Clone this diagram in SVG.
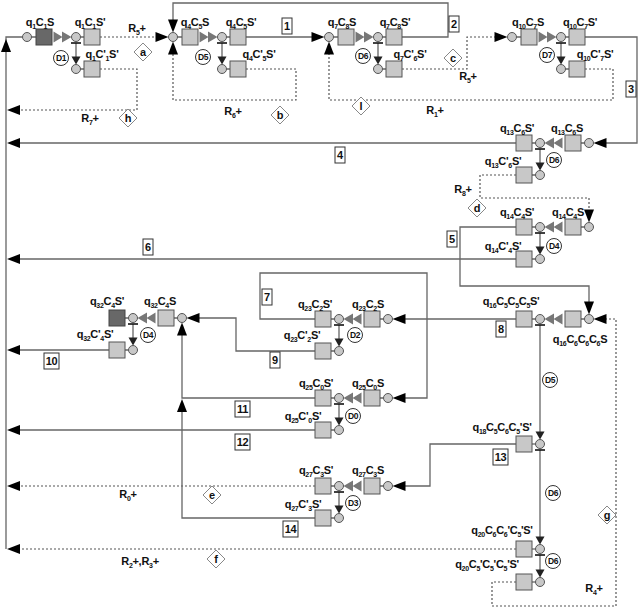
<svg xmlns="http://www.w3.org/2000/svg" xmlns:xlink="http://www.w3.org/1999/xlink" width="640" height="610" viewBox="0 0 640 610">
<style>
.t{font-family:"Liberation Sans",Arial,sans-serif;font-weight:bold;font-size:11px;fill:#111;text-anchor:middle;letter-spacing:-0.3px}
.s{font-size:7px}
.dt{font-family:"Liberation Sans",Arial,sans-serif;font-weight:bold;font-size:8.5px;fill:#111;text-anchor:middle;letter-spacing:-0.5px}
.ci{fill:#c8c8c8;stroke:#555;stroke-width:1}
.sq{fill:#c8c8c8;stroke:#555;stroke-width:1}
.sqd{fill:#686868;stroke:#444;stroke-width:1}
.ln{fill:none;stroke:#666;stroke-width:1.3}
.dl{fill:none;stroke:#555;stroke-width:1.2;stroke-dasharray:2 2}
.bar{fill:none;stroke:#111;stroke-width:1.6}
.dc{fill:#fff;stroke:#333;stroke-width:1}
.bx{fill:#fff;stroke:#333;stroke-width:1}
.dm{fill:#fff;stroke:#888;stroke-width:1}
</style>
<defs>
<path id="ar" d="M0,0 L-13,-5 L-13,5 Z" fill="#000"/>
<path id="av" d="M0,0 L-4.5,-8 L4.5,-8 Z" fill="#222"/>
<path id="dr" d="M-18,-5.5 L-9,0 L-18,5.5 Z M-9.5,-5.5 L0,0 L-9.5,5.5 Z" fill="#777"/>
<path id="dia" d="M-9,0 L0,-9 L9,0 L0,9 Z"/>
</defs>
<rect width="640" height="610" fill="#fff"/>

<g id="connectors">
<path class="ln" d="M6 549V37H22.5"/>
<use href="#ar" transform="translate(6,39) rotate(-90)"/>
<path class="dl" d="M100 37H160"/><use href="#ar" transform="translate(168.5,37)"/>
<path class="dl" d="M100 69H137V110H12"/><use href="#ar" transform="translate(7,110) rotate(180)"/>
<path class="ln" d="M246 37H318"/><use href="#ar" transform="translate(324.5,37)"/>
<path class="dl" d="M246 69H296V100H173V50"/><use href="#ar" transform="translate(173,41.5) rotate(-90)"/>
<path class="ln" d="M402 37H448V3H173V25"/><use href="#ar" transform="translate(173,32.5) rotate(90)"/>
<path class="dl" d="M402 69H467V37H500"/><use href="#ar" transform="translate(507.5,37)"/>
<path class="ln" d="M585 37H637V143H600"/><use href="#ar" transform="translate(593.5,143) rotate(180)"/>
<path class="dl" d="M585 69H613V100H329V50"/><use href="#ar" transform="translate(329,41.5) rotate(-90)"/>
<path class="ln" d="M516 143H12"/><use href="#ar" transform="translate(7,143) rotate(180)"/>
<path class="dl" d="M516 175H480V198H589V215"/><use href="#ar" transform="translate(589,222.5) rotate(90)"/>
<path class="ln" d="M516 227H460V286H589V307"/><use href="#ar" transform="translate(589,314.5) rotate(90)"/>
<path class="ln" d="M516 259H12"/><use href="#ar" transform="translate(7,259) rotate(180)"/>
<path class="ln" d="M516 319H398"/><use href="#ar" transform="translate(392.5,319) rotate(180)"/>
<path class="ln" d="M540 325V432"/><use href="#av" transform="translate(540,439.5)"/>
<path class="ln" d="M516 444H430V486H398"/><use href="#ar" transform="translate(392.5,486) rotate(180)"/>
<path class="ln" d="M540 450V537"/><use href="#av" transform="translate(540,544.5)"/>
<path class="dl" d="M516 549H12"/><use href="#ar" transform="translate(7,549) rotate(180)"/>
<path class="ln" d="M540 555V570"/><use href="#av" transform="translate(540,577.5)"/>
<path class="dl" d="M516 582H492V606H616V319H600"/><use href="#ar" transform="translate(593.5,319) rotate(180)"/>
<path class="ln" d="M315 319H260V273H427V398H398"/><use href="#ar" transform="translate(392.5,398) rotate(180)"/>
<path class="ln" d="M315 351H236V318H192"/><use href="#ar" transform="translate(186.5,318) rotate(180)"/>
<path class="ln" d="M315 398H182V330"/><use href="#ar" transform="translate(182,322.5) rotate(-90)"/>
<path class="ln" d="M315 430H12"/><use href="#ar" transform="translate(7,430) rotate(180)"/>
<path class="dl" d="M315 486H12"/><use href="#ar" transform="translate(7,486) rotate(180)"/>
<path class="ln" d="M315 518H182V405"/><use href="#ar" transform="translate(182,399) rotate(-90)"/>
<path class="ln" d="M109 350H12"/><use href="#ar" transform="translate(7,350) rotate(180)"/>
</g>

<g id="connector-labels">
<text class="t" x="137" y="32">R<tspan class="s" dy="3">5</tspan><tspan dy="-3">+</tspan></text>
<text class="t" x="90" y="122">R<tspan class="s" dy="3">7</tspan><tspan dy="-3">+</tspan></text>
<text class="t" x="233" y="115">R<tspan class="s" dy="3">6</tspan><tspan dy="-3">+</tspan></text>
<text class="t" x="468" y="80">R<tspan class="s" dy="3">5</tspan><tspan dy="-3">+</tspan></text>
<text class="t" x="435" y="114">R<tspan class="s" dy="3">1</tspan><tspan dy="-3">+</tspan></text>
<text class="t" x="463" y="193">R<tspan class="s" dy="3">8</tspan><tspan dy="-3">+</tspan></text>
<text class="t" x="128" y="498">R<tspan class="s" dy="3">0</tspan><tspan dy="-3">+</tspan></text>
<text class="t" x="140" y="565">R<tspan class="s" dy="3">2</tspan><tspan dy="-3">+,R</tspan><tspan class="s" dy="3">3</tspan><tspan dy="-3">+</tspan></text>
<text class="t" x="594" y="592">R<tspan class="s" dy="3">4</tspan><tspan dy="-3">+</tspan></text>

<use href="#dia" class="dm" x="143" y="52"/><text class="t" x="143" y="56">a</text>
<use href="#dia" class="dm" x="128" y="118"/><text class="t" x="128" y="122">h</text>
<use href="#dia" class="dm" x="280" y="115"/><text class="t" x="280" y="119">b</text>
<use href="#dia" class="dm" x="453" y="58"/><text class="t" x="453" y="62">c</text>
<use href="#dia" class="dm" x="361" y="106"/><text class="t" x="361" y="110">l</text>
<use href="#dia" class="dm" x="477" y="208"/><text class="t" x="477" y="212">d</text>
<use href="#dia" class="dm" x="212" y="495"/><text class="t" x="212" y="499">e</text>
<use href="#dia" class="dm" x="216" y="559"/><text class="t" x="216" y="563">f</text>
<use href="#dia" class="dm" x="607" y="515"/><text class="t" x="607" y="519">g</text>

<rect class="bx" x="282" y="18" width="10" height="16"/><text class="t" x="287" y="30">1</text>
<rect class="bx" x="449" y="16" width="10" height="16"/><text class="t" x="454" y="28">2</text>
<rect class="bx" x="626" y="81" width="10" height="16"/><text class="t" x="631" y="93">3</text>
<rect class="bx" x="335" y="147" width="10" height="16"/><text class="t" x="340" y="159">4</text>
<rect class="bx" x="447" y="231" width="10" height="16"/><text class="t" x="452" y="243">5</text>
<rect class="bx" x="143" y="239" width="10" height="16"/><text class="t" x="148" y="251">6</text>
<rect class="bx" x="262" y="289" width="10" height="16"/><text class="t" x="267" y="301">7</text>
<rect class="bx" x="496" y="321" width="10" height="16"/><text class="t" x="501" y="333">8</text>
<rect class="bx" x="270" y="352" width="10" height="16"/><text class="t" x="275" y="364">9</text>
<rect class="bx" x="44" y="353" width="15" height="16"/><text class="t" x="51.5" y="365">10</text>
<rect class="bx" x="235" y="401" width="15" height="16"/><text class="t" x="242.5" y="413">11</text>
<rect class="bx" x="235" y="434" width="15" height="16"/><text class="t" x="242.5" y="446">12</text>
<rect class="bx" x="493" y="449" width="15" height="16"/><text class="t" x="500.5" y="461">13</text>
<rect class="bx" x="283" y="521" width="15" height="16"/><text class="t" x="290.5" y="533">14</text>
</g>

<g id="q1">
<path class="ln" d="M31.5 37H36M80.5 37H84M76 43V61M80.5 69H84"/>
<circle class="ci" cx="27" cy="37" r="4.5"/>
<rect class="sqd" x="36" y="29" width="16" height="16"/>
<use href="#dr" transform="translate(71.5,37)"/>
<circle class="ci" cx="76" cy="37" r="4.5"/>
<path class="bar" d="M71 43H81"/>
<rect class="sq" x="84" y="29" width="16" height="16"/>
<use href="#av" transform="translate(76,64.5)"/>
<circle class="ci" cx="76" cy="69" r="4.5"/>
<rect class="sq" x="84" y="61" width="16" height="16"/>
<circle class="dc" cx="61" cy="58" r="7.5"/><text class="dt" x="61" y="61">D1</text>
<text class="t" x="40" y="26">q<tspan class="s" dy="3">1</tspan><tspan dy="-3">C</tspan><tspan class="s" dy="3">1</tspan><tspan dy="-3">S</tspan></text>
<text class="t" x="90" y="26">q<tspan class="s" dy="3">1</tspan><tspan dy="-3">C</tspan><tspan class="s" dy="3">1</tspan><tspan dy="-3">S'</tspan></text>
<text class="t" x="102" y="58">q<tspan class="s" dy="3">1</tspan><tspan dy="-3">C'</tspan><tspan class="s" dy="3">1</tspan><tspan dy="-3">S'</tspan></text>
</g>

<g id="q4">
<path class="ln" d="M177.5 37H182M226.5 37H230M222 43V61M226.5 69H230"/>
<circle class="ci" cx="173" cy="37" r="4.5"/>
<rect class="sq" x="182" y="29" width="16" height="16"/>
<use href="#dr" transform="translate(217.5,37)"/>
<circle class="ci" cx="222" cy="37" r="4.5"/>
<path class="bar" d="M217 43H227"/>
<rect class="sq" x="230" y="29" width="16" height="16"/>
<use href="#av" transform="translate(222,64.5)"/>
<circle class="ci" cx="222" cy="69" r="4.5"/>
<rect class="sq" x="230" y="61" width="16" height="16"/>
<circle class="dc" cx="203" cy="57" r="7.5"/><text class="dt" x="203" y="60">D5</text>
<text class="t" x="195" y="26">q<tspan class="s" dy="3">4</tspan><tspan dy="-3">C</tspan><tspan class="s" dy="3">5</tspan><tspan dy="-3">S</tspan></text>
<text class="t" x="241" y="26">q<tspan class="s" dy="3">4</tspan><tspan dy="-3">C</tspan><tspan class="s" dy="3">5</tspan><tspan dy="-3">S'</tspan></text>
<text class="t" x="259" y="58">q<tspan class="s" dy="3">4</tspan><tspan dy="-3">C'</tspan><tspan class="s" dy="3">5</tspan><tspan dy="-3">S'</tspan></text>
</g>

<g id="q7">
<path class="ln" d="M333.5 37H338M382.5 37H386M378 43V61M382.5 69H386"/>
<circle class="ci" cx="329" cy="37" r="4.5"/>
<rect class="sq" x="338" y="29" width="16" height="16"/>
<use href="#dr" transform="translate(373.5,37)"/>
<circle class="ci" cx="378" cy="37" r="4.5"/>
<path class="bar" d="M373 43H383"/>
<rect class="sq" x="386" y="29" width="16" height="16"/>
<use href="#av" transform="translate(378,64.5)"/>
<circle class="ci" cx="378" cy="69" r="4.5"/>
<rect class="sq" x="386" y="61" width="16" height="16"/>
<circle class="dc" cx="363" cy="56" r="7.5"/><text class="dt" x="363" y="59">D6</text>
<text class="t" x="342" y="26">q<tspan class="s" dy="3">7</tspan><tspan dy="-3">C</tspan><tspan class="s" dy="3">8</tspan><tspan dy="-3">S</tspan></text>
<text class="t" x="395" y="26">q<tspan class="s" dy="3">7</tspan><tspan dy="-3">C</tspan><tspan class="s" dy="3">8</tspan><tspan dy="-3">S'</tspan></text>
<text class="t" x="410" y="58">q<tspan class="s" dy="3">7</tspan><tspan dy="-3">C'</tspan><tspan class="s" dy="3">6</tspan><tspan dy="-3">S'</tspan></text>
</g>

<g id="q10">
<path class="ln" d="M516.5 37H521M565.5 37H569M561 43V61M565.5 69H569"/>
<circle class="ci" cx="512" cy="37" r="4.5"/>
<rect class="sq" x="521" y="29" width="16" height="16"/>
<use href="#dr" transform="translate(556.5,37)"/>
<circle class="ci" cx="561" cy="37" r="4.5"/>
<path class="bar" d="M556 43H566"/>
<rect class="sq" x="569" y="29" width="16" height="16"/>
<use href="#av" transform="translate(561,64.5)"/>
<circle class="ci" cx="561" cy="69" r="4.5"/>
<rect class="sq" x="569" y="61" width="16" height="16"/>
<circle class="dc" cx="547" cy="55" r="7.5"/><text class="dt" x="547" y="58">D7</text>
<text class="t" x="528" y="26">q<tspan class="s" dy="3">10</tspan><tspan dy="-3">C</tspan><tspan class="s" dy="3">7</tspan><tspan dy="-3">S</tspan></text>
<text class="t" x="580" y="26">q<tspan class="s" dy="3">10</tspan><tspan dy="-3">C</tspan><tspan class="s" dy="3">7</tspan><tspan dy="-3">S'</tspan></text>
<text class="t" x="595" y="58">q<tspan class="s" dy="3">10</tspan><tspan dy="-3">C'</tspan><tspan class="s" dy="3">7</tspan><tspan dy="-3">S'</tspan></text>
</g>

<g id="q13">
<path class="ln" d="M584.5 143H581M535.5 143H532M540 149V167M535.5 175H532"/>
<circle class="ci" cx="589" cy="143" r="4.5"/>
<rect class="sq" x="565" y="135" width="16" height="16"/>
<use href="#dr" transform="translate(544.5,143) scale(-1,1)"/>
<circle class="ci" cx="540" cy="143" r="4.5"/>
<path class="bar" d="M535 149H545"/>
<rect class="sq" x="516" y="135" width="16" height="16"/>
<use href="#av" transform="translate(540,170.5)"/>
<circle class="ci" cx="540" cy="175" r="4.5"/>
<rect class="sq" x="516" y="167" width="16" height="16"/>
<circle class="dc" cx="554" cy="160" r="7.5"/><text class="dt" x="554" y="163">D6</text>
<text class="t" x="517" y="132">q<tspan class="s" dy="3">13</tspan><tspan dy="-3">C</tspan><tspan class="s" dy="3">6</tspan><tspan dy="-3">S'</tspan></text>
<text class="t" x="567" y="132">q<tspan class="s" dy="3">13</tspan><tspan dy="-3">C</tspan><tspan class="s" dy="3">6</tspan><tspan dy="-3">S</tspan></text>
<text class="t" x="503" y="165">q<tspan class="s" dy="3">13</tspan><tspan dy="-3">C'</tspan><tspan class="s" dy="3">6</tspan><tspan dy="-3">S'</tspan></text>
</g>

<g id="q14">
<path class="ln" d="M584.5 227H581M535.5 227H532M540 233V251M535.5 259H532"/>
<circle class="ci" cx="589" cy="227" r="4.5"/>
<rect class="sq" x="565" y="219" width="16" height="16"/>
<use href="#dr" transform="translate(544.5,227) scale(-1,1)"/>
<circle class="ci" cx="540" cy="227" r="4.5"/>
<path class="bar" d="M535 233H545"/>
<rect class="sq" x="516" y="219" width="16" height="16"/>
<use href="#av" transform="translate(540,254.5)"/>
<circle class="ci" cx="540" cy="259" r="4.5"/>
<rect class="sq" x="516" y="251" width="16" height="16"/>
<circle class="dc" cx="554" cy="246" r="7.5"/><text class="dt" x="554" y="249">D4</text>
<text class="t" x="517" y="216">q<tspan class="s" dy="3">14</tspan><tspan dy="-3">C</tspan><tspan class="s" dy="3">4</tspan><tspan dy="-3">S'</tspan></text>
<text class="t" x="568" y="216">q<tspan class="s" dy="3">14</tspan><tspan dy="-3">C</tspan><tspan class="s" dy="3">4</tspan><tspan dy="-3">S</tspan></text>
<text class="t" x="503" y="250">q<tspan class="s" dy="3">14</tspan><tspan dy="-3">C'</tspan><tspan class="s" dy="3">4</tspan><tspan dy="-3">S'</tspan></text>
</g>

<g id="q16">
<path class="ln" d="M584.5 319H581M535.5 319H532"/>
<circle class="ci" cx="589" cy="319" r="4.5"/>
<rect class="sq" x="565" y="311" width="16" height="16"/>
<use href="#dr" transform="translate(544.5,319) scale(-1,1)"/>
<circle class="ci" cx="540" cy="319" r="4.5"/>
<path class="bar" d="M535 325H545"/>
<rect class="sq" x="516" y="311" width="16" height="16"/>
<circle class="dc" cx="550" cy="380" r="7.5"/><text class="dt" x="550" y="383">D5</text>
<text class="t" x="511" y="305">q<tspan class="s" dy="3">16</tspan><tspan dy="-3">C</tspan><tspan class="s" dy="3">5</tspan><tspan dy="-3">C</tspan><tspan class="s" dy="3">5</tspan><tspan dy="-3">C</tspan><tspan class="s" dy="3">5</tspan><tspan dy="-3">S'</tspan></text>
<text class="t" x="580" y="343">q<tspan class="s" dy="3">16</tspan><tspan dy="-3">C</tspan><tspan class="s" dy="3">6</tspan><tspan dy="-3">C</tspan><tspan class="s" dy="3">6</tspan><tspan dy="-3">C</tspan><tspan class="s" dy="3">6</tspan><tspan dy="-3">S</tspan></text>
</g>

<g id="q18">
<path class="ln" d="M535.5 444H532"/>
<rect class="sq" x="516" y="436" width="16" height="16"/>
<circle class="ci" cx="540" cy="444" r="4.5"/>
<path class="bar" d="M535 450H545"/>
<circle class="dc" cx="553" cy="493" r="7.5"/><text class="dt" x="553" y="496">D6</text>
<text class="t" x="502" y="431">q<tspan class="s" dy="3">18</tspan><tspan dy="-3">C</tspan><tspan class="s" dy="3">5</tspan><tspan dy="-3">C</tspan><tspan class="s" dy="3">6</tspan><tspan dy="-3">C</tspan><tspan class="s" dy="3">5</tspan><tspan dy="-3">'S'</tspan></text>
</g>

<g id="q20a">
<path class="ln" d="M535.5 549H532"/>
<rect class="sq" x="516" y="541" width="16" height="16"/>
<circle class="ci" cx="540" cy="549" r="4.5"/>
<path class="bar" d="M535 555H545"/>
<circle class="dc" cx="553" cy="561" r="7.5"/><text class="dt" x="553" y="564">D6</text>
<text class="t" x="502" y="534">q<tspan class="s" dy="3">20</tspan><tspan dy="-3">C</tspan><tspan class="s" dy="3">6</tspan><tspan dy="-3">C</tspan><tspan class="s" dy="3">6</tspan><tspan dy="-3">'C</tspan><tspan class="s" dy="3">5</tspan><tspan dy="-3">'S'</tspan></text>
</g>

<g id="q20b">
<path class="ln" d="M535.5 582H532"/>
<rect class="sq" x="516" y="574" width="16" height="16"/>
<circle class="ci" cx="540" cy="582" r="4.5"/>
<text class="t" x="487" y="568">q<tspan class="s" dy="3">20</tspan><tspan dy="-3">C</tspan><tspan class="s" dy="3">5</tspan><tspan dy="-3">'C</tspan><tspan class="s" dy="3">5</tspan><tspan dy="-3">'C</tspan><tspan class="s" dy="3">5</tspan><tspan dy="-3">'S'</tspan></text>
</g>

<g id="q23">
<path class="ln" d="M383.5 319H380M334.5 319H331M339 325V343M334.5 351H331"/>
<circle class="ci" cx="388" cy="319" r="4.5"/>
<rect class="sq" x="364" y="311" width="16" height="16"/>
<use href="#dr" transform="translate(343.5,319) scale(-1,1)"/>
<circle class="ci" cx="339" cy="319" r="4.5"/>
<path class="bar" d="M334 325H344"/>
<rect class="sq" x="315" y="311" width="16" height="16"/>
<use href="#av" transform="translate(339,346.5)"/>
<circle class="ci" cx="339" cy="351" r="4.5"/>
<rect class="sq" x="315" y="343" width="16" height="16"/>
<circle class="dc" cx="355" cy="335" r="7.5"/><text class="dt" x="355" y="338">D2</text>
<text class="t" x="315" y="308">q<tspan class="s" dy="3">23</tspan><tspan dy="-3">C</tspan><tspan class="s" dy="3">2</tspan><tspan dy="-3">S'</tspan></text>
<text class="t" x="368" y="308">q<tspan class="s" dy="3">23</tspan><tspan dy="-3">C</tspan><tspan class="s" dy="3">2</tspan><tspan dy="-3">S</tspan></text>
<text class="t" x="302" y="339">q<tspan class="s" dy="3">23</tspan><tspan dy="-3">C'</tspan><tspan class="s" dy="3">2</tspan><tspan dy="-3">S'</tspan></text>
</g>

<g id="q25">
<path class="ln" d="M383.5 398H380M334.5 398H331M339 404V422M334.5 430H331"/>
<circle class="ci" cx="388" cy="398" r="4.5"/>
<rect class="sq" x="364" y="390" width="16" height="16"/>
<use href="#dr" transform="translate(343.5,398) scale(-1,1)"/>
<circle class="ci" cx="339" cy="398" r="4.5"/>
<path class="bar" d="M334 404H344"/>
<rect class="sq" x="315" y="390" width="16" height="16"/>
<use href="#av" transform="translate(339,425.5)"/>
<circle class="ci" cx="339" cy="430" r="4.5"/>
<rect class="sq" x="315" y="422" width="16" height="16"/>
<circle class="dc" cx="353" cy="416" r="7.5"/><text class="dt" x="353" y="419">D0</text>
<text class="t" x="316" y="387">q<tspan class="s" dy="3">25</tspan><tspan dy="-3">C</tspan><tspan class="s" dy="3">0</tspan><tspan dy="-3">S'</tspan></text>
<text class="t" x="368" y="387">q<tspan class="s" dy="3">25</tspan><tspan dy="-3">C</tspan><tspan class="s" dy="3">0</tspan><tspan dy="-3">S</tspan></text>
<text class="t" x="303" y="420">q<tspan class="s" dy="3">25</tspan><tspan dy="-3">C'</tspan><tspan class="s" dy="3">0</tspan><tspan dy="-3">S'</tspan></text>
</g>

<g id="q27">
<path class="ln" d="M383.5 486H380M334.5 486H331M339 492V510M334.5 518H331"/>
<circle class="ci" cx="388" cy="486" r="4.5"/>
<rect class="sq" x="364" y="478" width="16" height="16"/>
<use href="#dr" transform="translate(343.5,486) scale(-1,1)"/>
<circle class="ci" cx="339" cy="486" r="4.5"/>
<path class="bar" d="M334 492H344"/>
<rect class="sq" x="315" y="478" width="16" height="16"/>
<use href="#av" transform="translate(339,513.5)"/>
<circle class="ci" cx="339" cy="518" r="4.5"/>
<rect class="sq" x="315" y="510" width="16" height="16"/>
<circle class="dc" cx="353" cy="503" r="7.5"/><text class="dt" x="353" y="506">D3</text>
<text class="t" x="316" y="474">q<tspan class="s" dy="3">27</tspan><tspan dy="-3">C</tspan><tspan class="s" dy="3">3</tspan><tspan dy="-3">S'</tspan></text>
<text class="t" x="368" y="474">q<tspan class="s" dy="3">27</tspan><tspan dy="-3">C</tspan><tspan class="s" dy="3">3</tspan><tspan dy="-3">S</tspan></text>
<text class="t" x="303" y="508">q<tspan class="s" dy="3">27</tspan><tspan dy="-3">C'</tspan><tspan class="s" dy="3">3</tspan><tspan dy="-3">S'</tspan></text>
</g>

<g id="q32">
<path class="ln" d="M177.5 318H174M128.5 318H125M133 324V342M128.5 350H125"/>
<circle class="ci" cx="182" cy="318" r="4.5"/>
<rect class="sq" x="158" y="310" width="16" height="16"/>
<use href="#dr" transform="translate(137.5,318) scale(-1,1)"/>
<circle class="ci" cx="133" cy="318" r="4.5"/>
<path class="bar" d="M128 324H138"/>
<rect class="sqd" x="109" y="310" width="16" height="16"/>
<use href="#av" transform="translate(133,345.5)"/>
<circle class="ci" cx="133" cy="350" r="4.5"/>
<rect class="sq" x="109" y="342" width="16" height="16"/>
<circle class="dc" cx="148" cy="335" r="7.5"/><text class="dt" x="148" y="338">D4</text>
<text class="t" x="107" y="305">q<tspan class="s" dy="3">32</tspan><tspan dy="-3">C</tspan><tspan class="s" dy="3">4</tspan><tspan dy="-3">S'</tspan></text>
<text class="t" x="160" y="305">q<tspan class="s" dy="3">32</tspan><tspan dy="-3">C</tspan><tspan class="s" dy="3">4</tspan><tspan dy="-3">S</tspan></text>
<text class="t" x="95" y="338">q<tspan class="s" dy="3">32</tspan><tspan dy="-3">C'</tspan><tspan class="s" dy="3">4</tspan><tspan dy="-3">S'</tspan></text>
</g>
</svg>
